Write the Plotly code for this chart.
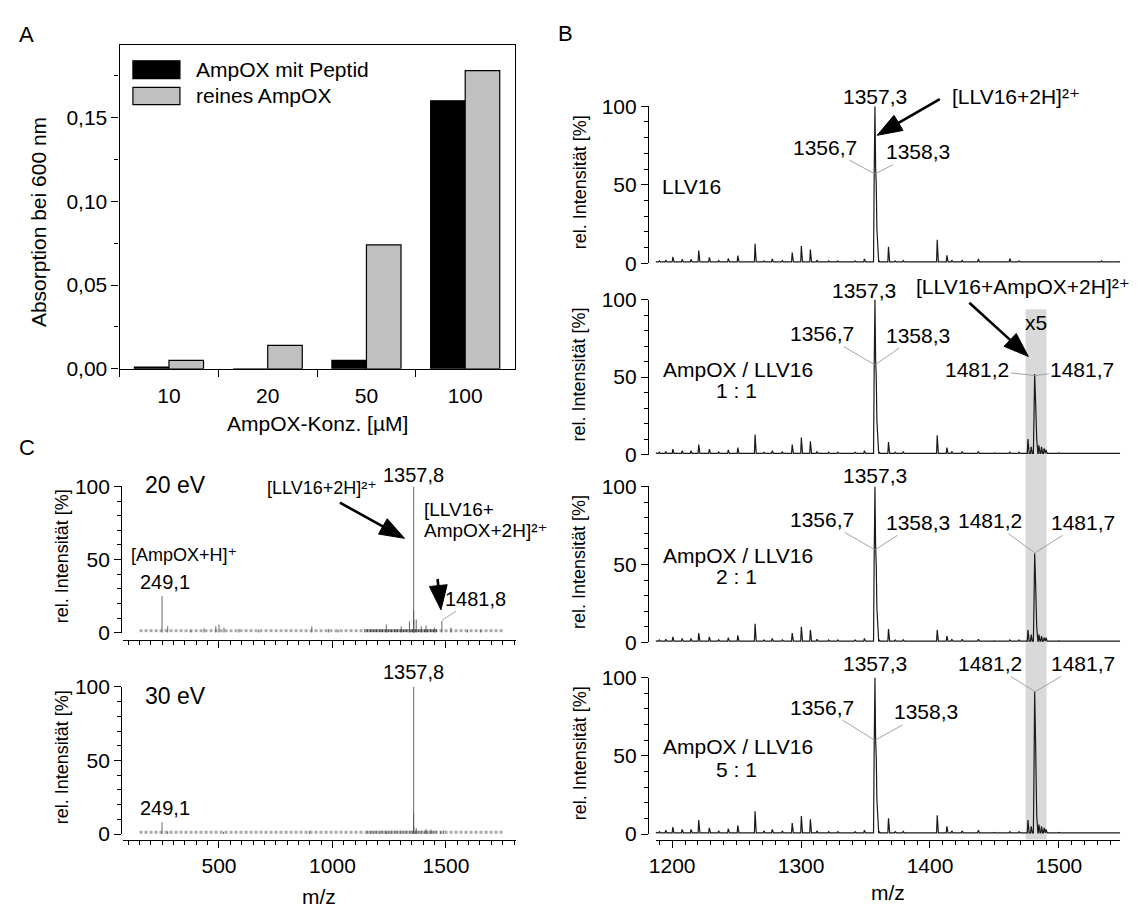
import math
import plotly.graph_objects as go

W, H = 1140, 913
def fx(px): return px / W
def fy(py): return 1 - py / H

FONT = "Liberation Sans, Arial, DejaVu Sans, sans-serif"

# ---------------- Panel A data ----------------
conc = ["10", "20", "50", "100"]
abs_with_peptide = [0.001, 0.0, 0.005, 0.160]
abs_pure = [0.005, 0.014, 0.074, 0.178]

# ---------------- Panel B data (m/z, rel. intensity as displayed) ----------------
b_mz = [1187.5, 1190.0, 1195.0, 1200.5, 1207.7, 1214.6, 1220.6, 1228.8, 1236.0, 1243.5,
        1250.9, 1264.3, 1271.2, 1277.6, 1285.4, 1293.1, 1300.2, 1307.2, 1312.3, 1321.4,
        1328.5, 1335.5, 1341.9, 1349.1, 1356.7, 1357.3, 1357.8, 1358.3, 1358.8, 1359.3,
        1360.5, 1367.8, 1373.0, 1379.2, 1385.0, 1405.6, 1413.1, 1416.9, 1424.9, 1437.5,
        1450.0, 1461.9, 1469.0, 1476.0, 1478.5, 1480.7, 1481.2, 1481.7, 1482.2, 1482.8,
        1484.5, 1486.5, 1488.5, 1490.0, 1500.0, 1515.0, 1533.0, 1547.0]
b_llv16 = [1.0, 1.5, 2.0, 4.0, 2.5, 2.5, 8.0, 3.7, 1.7, 3.0,
           4.8, 12.4, 1.5, 2.7, 1.7, 6.8, 11.0, 8.7, 2.0, 1.5,
           1.5, 1.2, 1.5, 2.7, 55, 100, 62, 50, 22, 9,
           1.5, 10.4, 1.5, 1.7, 1.2, 15.0, 5.0, 2.0, 2.0, 2.7,
           1.0, 3.0, 1.5, 1.0, 1.0, 1.0, 1.0, 1.0, 1.0, 1.0,
           1.0, 1.0, 1.0, 1.0, 1.0, 1.0, 1.5, 1.0]
b_ratio_1_1 = [1.0, 1.5, 2.0, 3.5, 2.5, 2.5, 6.5, 3.5, 1.7, 3.0,
               4.5, 13.0, 1.5, 2.5, 1.7, 6.5, 11.0, 8.5, 2.0, 1.5,
               1.5, 1.2, 1.5, 2.5, 55, 100, 62, 50, 22, 9,
               1.5, 8.0, 1.5, 1.7, 1.2, 12.5, 4.5, 2.0, 2.0, 2.0,
               1.0, 1.5, 1.5, 10.0, 5.0, 25, 52, 40, 18, 10,
               6.0, 5.0, 4.0, 3.0, 1.0, 1.0, 1.2, 1.0]
b_ratio_2_1 = [1.0, 1.5, 2.0, 3.5, 2.5, 2.5, 6.0, 3.5, 1.7, 3.0,
               4.5, 12.0, 1.5, 2.5, 1.7, 6.0, 10.0, 8.0, 2.0, 1.5,
               1.5, 1.2, 1.5, 2.5, 55, 100, 62, 50, 22, 9,
               1.5, 8.5, 1.5, 1.7, 1.2, 8.0, 4.0, 2.0, 2.0, 2.0,
               1.0, 1.5, 1.5, 8.0, 5.0, 25, 57, 45, 20, 10,
               5.0, 4.0, 3.0, 3.0, 1.0, 1.0, 1.2, 1.0]
b_ratio_5_1 = [1.0, 1.5, 2.5, 4.5, 3.0, 3.0, 9.0, 4.0, 2.0, 3.5,
               5.5, 14.5, 2.0, 3.0, 2.0, 7.0, 11.5, 9.5, 2.0, 1.5,
               1.5, 1.2, 1.5, 2.5, 55, 100, 60, 50, 22, 9,
               1.5, 10.0, 1.5, 1.7, 1.2, 12.0, 5.0, 2.0, 2.0, 2.5,
               1.0, 1.5, 1.5, 9.0, 5.0, 40, 91, 70, 25, 12,
               6.0, 5.0, 4.0, 3.0, 1.0, 1.0, 1.2, 1.0]
b_baseline = 0.8
b_x5_region = [1474.2, 1490.4]

# ---------------- Panel C data (centroided sticks) ----------------
c20_mz = [249.1, 274, 376, 434, 486, 500, 522, 588, 675, 909, 982, 1025, 1142, 1237,
          1303, 1339, 1357.3, 1357.8, 1358.3, 1369, 1391, 1412, 1449, 1481.8, 1522, 1595, 1653]
c20_int = [25, 4.4, 2, 3, 4.4, 5.5, 3.5, 2.5, 2, 4.4, 2.5, 2, 2.5, 5.5,
           4.4, 7.8, 15, 100, 9, 9, 4.4, 5, 3.5, 8, 3.5, 2, 2]
c30_mz = [249.1, 274, 520, 898, 1237, 1357.3, 1357.8, 1358.3, 1369, 1412, 1434, 1477, 1490]
c30_int = [8, 1.8, 1.5, 2.2, 1.5, 14, 100, 5, 4, 3.3, 3, 2, 2.5]
c_noise_range = [150, 1750]
c_dense_range = [1150, 1460]
c_noise_level = 1.3


def profile(mz, inten, base):
    xs, ys = [], []
    prev = None
    for m, h in zip(mz, inten):
        if prev is None or m - prev > 1.2:
            if prev is not None:
                xs.append(prev + 0.9); ys.append(base)
            xs.append(m - 0.5); ys.append(base)
        xs.append(m); ys.append(h)
        prev = m
    xs.append(prev + 0.9); ys.append(base)
    return xs, ys


def sticks(mz, inten):
    xs, ys = [], []
    for m, h in zip(mz, inten):
        xs += [m, m, None]
        ys += [0, h, None]
    return xs, ys


# layout geometry (pixels)
B_XDOM = (652.7, 1120.0); B_XR = (1187.2, 1547.5)
C_XDOM = (116.7, 512.0); C_XR = (77.0, 1808.0)
b_rows = [(96.7, 257.7), (295.0, 454.0), (486.7, 646.7), (682.7, 843.3)]
c_rows = [(486.7, 636.7, 644.0), (692.3, 843.3, 849.0)]

def b_px(mz):
    return B_XDOM[0] + (mz - B_XR[0]) * (B_XDOM[1] - B_XDOM[0]) / (B_XR[1] - B_XR[0])

def c_px(mz):
    return C_XDOM[0] + (mz - C_XR[0]) * (C_XDOM[1] - C_XDOM[0]) / (C_XR[1] - C_XR[0])

def v_px(v, top, base):
    return base - v / 100.0 * (base - top)


fig = go.Figure()

# Panel A bars
fig.add_trace(go.Bar(x=conc, y=abs_with_peptide, name="AmpOX mit Peptid",
                     marker=dict(color="black", line=dict(color="black", width=1.2)),
                     xaxis="x", yaxis="y", showlegend=False))
fig.add_trace(go.Bar(x=conc, y=abs_pure, name="reines AmpOX",
                     marker=dict(color="#c0c0c0", line=dict(color="black", width=1.2)),
                     xaxis="x", yaxis="y", showlegend=False))

# Panel B spectra
b_series = [b_llv16, b_ratio_1_1, b_ratio_2_1, b_ratio_5_1]
for i, s in enumerate(b_series):
    xs, ys = profile(b_mz, s, b_baseline)
    fig.add_trace(go.Scatter(x=xs, y=ys, mode="lines",
                             line=dict(color="#1a1a1a", width=1.2),
                             xaxis="x%d" % (i + 2), yaxis="y%d" % (i + 2),
                             showlegend=False, hoverinfo="skip"))

# Panel C spectra
for k, (mzs, ints, dense_col) in enumerate([(c20_mz, c20_int, "#444"), (c30_mz, c30_int, "#777")]):
    ax = "x%d" % (k + 6); ay = "y%d" % (k + 6)
    fig.add_trace(go.Scatter(x=c_noise_range, y=[c_noise_level] * 2, mode="lines",
                             line=dict(color="#aaaaaa", width=3, dash="3px,2px"),
                             xaxis=ax, yaxis=ay, showlegend=False, hoverinfo="skip"))
    fig.add_trace(go.Scatter(x=c_dense_range, y=[c_noise_level] * 2, mode="lines",
                             line=dict(color=dense_col, width=3, dash="2px,1px"),
                             xaxis=ax, yaxis=ay, showlegend=False, hoverinfo="skip"))
    xs, ys = sticks(mzs, ints)
    fig.add_trace(go.Scatter(x=xs, y=ys, mode="lines",
                             line=dict(color="#555555", width=0.9),
                             xaxis=ax, yaxis=ay, showlegend=False, hoverinfo="skip"))

axis_common = dict(showgrid=False, zeroline=False, linecolor="black", linewidth=1.3,
                   tickcolor="black", tickwidth=1.3, ticks="outside",
                   tickfont=dict(size=21, color="black"))

layout = dict(
    width=W, height=H, margin=dict(l=0, r=0, t=0, b=0),
    paper_bgcolor="white", plot_bgcolor="rgba(0,0,0,0)",
    font=dict(family=FONT, size=21, color="black"),
    separators=",.",
    bargap=0.3, bargroupgap=0.0, barmode="group",
    showlegend=False,
)

# Panel A axes
layout["xaxis"] = dict(axis_common, domain=[fx(113.3), fx(510.7)], anchor="y",
                       type="category", showline=True, mirror=True,
                       tickson="boundaries", ticklen=7, ticklabelstandoff=8)
layout["yaxis"] = dict(axis_common, domain=[fy(366), fy(34.3)], anchor="x",
                       range=[0, 0.193], tickvals=[0, 0.05, 0.10, 0.15], tickformat=".2f",
                       showline=True, mirror=True, ticklen=7,
                       minor=dict(tickmode="array", tickvals=[0.025, 0.075, 0.125, 0.175],
                                  ticks="outside", ticklen=4, tickcolor="black", tickwidth=1.3))

# Panel B axes
for i, (top, base) in enumerate(b_rows):
    n = i + 2
    xa = dict(axis_common, domain=[fx(B_XDOM[0]), fx(B_XDOM[1])], range=list(B_XR),
              anchor="free", position=fy(849))
    if i < 3:
        xa.update(visible=False)
    else:
        xa.update(showline=True, tick0=1200, dtick=100, ticklen=7,
                  minor=dict(tickmode="linear", tick0=1200, dtick=10, ticks="outside",
                             ticklen=4, tickcolor="black", tickwidth=1.2))
    layout["xaxis%d" % n] = xa
    layout["yaxis%d" % n] = dict(axis_common, domain=[fy(base), fy(top)], range=[0, 100],
                                 anchor="free", position=fx(645), showline=True,
                                 tick0=0, dtick=50, ticklen=7,
                                 minor=dict(tickmode="linear", tick0=0, dtick=10, ticks="outside",
                                            ticklen=4, tickcolor="black", tickwidth=1.2))

# Panel C axes
for k, (top, base, xline) in enumerate(c_rows):
    n = k + 6
    layout["xaxis%d" % n] = dict(axis_common, domain=[fx(C_XDOM[0]), fx(C_XDOM[1])], range=list(C_XR),
                                 anchor="free", position=fy(xline), showline=True,
                                 tick0=0, dtick=500, ticklen=7, showticklabels=(k == 1),
                                 minor=dict(tickmode="linear", tick0=0, dtick=50, ticks="outside",
                                            ticklen=4, tickcolor="black", tickwidth=1.2))
    layout["yaxis%d" % n] = dict(axis_common, domain=[fy(base), fy(top)], range=[0, 100],
                                 anchor="free", position=fx(115), showline=True,
                                 tick0=0, dtick=50, ticklen=7,
                                 minor=dict(tickmode="linear", tick0=0, dtick=10, ticks="outside",
                                            ticklen=4, tickcolor="black", tickwidth=1.2))

fig.update_layout(**layout)

# ---------------- Shapes ----------------
shapes = []
shapes.append(dict(type="rect", xref="x5", yref="paper", x0=b_x5_region[0], x1=b_x5_region[1],
                   y0=fy(849), y1=fy(305), fillcolor="#d9d9d9", line=dict(width=0), layer="below"))
shapes.append(dict(type="rect", xref="paper", yref="paper", x0=fx(126.7), x1=fx(174),
                   y0=fy(68.3), y1=fy(50), fillcolor="black", line=dict(color="black", width=1.2)))
shapes.append(dict(type="rect", xref="paper", yref="paper", x0=fx(126.7), x1=fx(174),
                   y0=fy(95), y1=fy(77.3), fillcolor="#c0c0c0", line=dict(color="black", width=1.2)))


def big_arrow(tail, head, head_len=25.0, half_w=9.0):
    """Black pointer arrow between two pixel positions (drawn as shapes)."""
    tx, ty = tail; hx, hy = head
    L = math.hypot(hx - tx, hy - ty)
    ux, uy = (hx - tx) / L, (hy - ty) / L
    bx, by = hx - ux * head_len, hy - uy * head_len
    nx, ny = -uy, ux
    shapes.append(dict(type="line", xref="paper", yref="paper",
                       x0=fx(tx), y0=fy(ty), x1=fx(bx + ux * 3), y1=fy(by + uy * 3),
                       line=dict(color="black", width=2.6)))
    path = "M %.5f,%.5f L %.5f,%.5f L %.5f,%.5f Z" % (
        fx(hx), fy(hy), fx(bx + nx * half_w), fy(by + ny * half_w),
        fx(bx - nx * half_w), fy(by - ny * half_w))
    shapes.append(dict(type="path", xref="paper", yref="paper", path=path,
                       fillcolor="black", line=dict(color="black", width=1)))

def b_pt(i, mz, v):
    top, base = b_rows[i]
    return (b_px(mz), v_px(v, top, base))

def c_pt(k, mz, v):
    top, base, _ = c_rows[k]
    return (c_px(mz), v_px(v, top, base))

big_arrow(b_pt(0, 1407.6, 104.6), b_pt(0, 1359.0, 81.5))
big_arrow(b_pt(1, 1430.5, 97.9), b_pt(1, 1476.3, 63.3))
big_arrow(c_pt(0, 1032.7, 88.9), c_pt(0, 1317.4, 64.5))
big_arrow(c_pt(0, 1463.0, 36.7), c_pt(0, 1478.0, 15.6))

fig.update_layout(shapes=shapes)

# ---------------- Annotations ----------------
ann = []
def txt(text, xpx, ypx, size=21, xanchor="center", yanchor="middle", align="center", angle=0):
    ann.append(dict(text=text, x=fx(xpx), y=fy(ypx), xref="paper", yref="paper", showarrow=False,
                    font=dict(size=size, color="black", family=FONT), xanchor=xanchor,
                    yanchor=yanchor, align=align, textangle=angle))

def txtB(i, text, mz, v, **kw):
    x, y = b_pt(i, mz, v)
    txt(text, x, y, **kw)

def txtC(k, text, mz, v, **kw):
    x, y = c_pt(k, mz, v)
    txt(text, x, y, **kw)

def leader(text, hx, hy, tx, ty, xr, yr, size=21):
    ann.append(dict(text=text, x=hx, y=hy, ax=tx, ay=ty, xref=xr, yref=yr, axref=xr, ayref=yr,
                    showarrow=True, arrowhead=0, arrowwidth=0.9, arrowcolor="#9a9a9a",
                    standoff=0, startstandoff=0, font=dict(size=size, color="black", family=FONT)))

SUP2P = "\u00b2\u207a"   # superscript "2+"
SUPP = "\u207a"          # superscript "+"

# panel letters
txt("A", 20, 23, size=22)
txt("B", 562, 22, size=22)
txt("C", 20.5, 447, size=22)

# Panel A texts
txt("Absorption bei 600 nm", 31.7, 216, angle=-90)
txt("AmpOX-Konz. [µM]", 312, 422)
txt("AmpOX mit Peptid", 187.7, 59, xanchor="left")
txt("reines AmpOX", 187.7, 86, xanchor="left")

# Panel B titles
for (top, base) in b_rows:
    txt("rel. Intensität [%]", 576, (top + base) / 2 - 3, size=18, angle=-90)
txt("m/z", (B_XDOM[0] + B_XDOM[1]) / 2, 903)

# B1
xr, yr = "x2", "y2"
txtB(0, "1357,3", 1357.3, 106)
leader("1356,7", 1357.0, 57, 1318.7, 74, xr, yr)
leader("1358,3", 1357.6, 57, 1391.0, 71, xr, yr)
txtB(0, "LLV16", 1190.5, 49, xanchor="left")
txtB(0, "[LLV16+2H]" + SUP2P, 1466.6, 106)

# B2
xr, yr = "x3", "y3"
txtB(1, "1357,3", 1349.0, 106)
leader("1356,7", 1357.0, 58, 1316.0, 78, xr, yr)
leader("1358,3", 1357.6, 58, 1390.5, 77, xr, yr)
txtB(1, "AmpOX / LLV16", 1251.0, 55)
txtB(1, "1 : 1", 1250.0, 41.5)
leader("1481,2", 1481.3, 51, 1436.8, 55, xr, yr)
leader("1481,7", 1481.6, 51, 1518.2, 55, xr, yr)
txtB(1, "x5", 1482.5, 85.5)
txtB(1, "[LLV16+AmpOX+2H]" + SUP2P, 1472.0, 108.4)

# B3
xr, yr = "x4", "y4"
txtB(2, "1357,3", 1357.3, 107)
leader("1356,7", 1357.0, 59.5, 1316.0, 79, xr, yr)
leader("1358,3", 1357.6, 59.5, 1390.5, 77, xr, yr)
txtB(2, "AmpOX / LLV16", 1251.0, 56)
txtB(2, "2 : 1", 1250.0, 42)
leader("1481,2", 1481.3, 57.5, 1446.8, 78, xr, yr)
leader("1481,7", 1481.6, 57.5, 1519.0, 77, xr, yr)

# B4
xr, yr = "x5", "y5"
txtB(3, "1357,3", 1357.3, 109)
leader("1356,7", 1357.0, 60, 1316.0, 81, xr, yr)
leader("1358,3", 1357.6, 60, 1396.8, 78, xr, yr)
txtB(3, "AmpOX / LLV16", 1251.0, 56)
txtB(3, "5 : 1", 1250.0, 41)
leader("1481,2", 1481.3, 91, 1446.8, 109, xr, yr)
leader("1481,7", 1481.6, 91, 1519.0, 109, xr, yr)

# Panel C titles
for (top, base, _) in c_rows:
    txt("rel. Intensität [%]", 55, (top + base) / 2 - 3, size=18, angle=-90)
txt("m/z", (C_XDOM[0] + C_XDOM[1]) / 2, 907)

# C top (20 eV)
xr, yr = "x6", "y6"
txtC(0, "20 eV", 164.6, 101, size=23, xanchor="left")
txtC(0, "[AmpOX+H]" + SUPP, 105, 53, size=18, xanchor="left")
txtC(0, "249,1", 262, 34.5, size=20)
txtC(0, "[LLV16+2H]" + SUP2P, 1206, 99, size=18, xanchor="right")
txtC(0, "1357,8", 1357.8, 108, size=20)
txtC(0, "[LLV16+", 1396, 84.5, size=19, xanchor="left")
txtC(0, "AmpOX+2H]" + SUP2P, 1396, 70, size=19, xanchor="left")
leader("1481,8", 1483.0, 8.5, 1630.0, 23.3, xr, yr, size=20)

# C bottom (30 eV)
txtC(1, "30 eV", 164.6, 94, size=23, xanchor="left")
txtC(1, "249,1", 262, 17.6, size=20)
txtC(1, "1357,8", 1357.8, 110, size=20)

fig.update_layout(annotations=ann)

fig.write_html("out.html", config={"displayModeBar": False},
               post_script="document.body.style.margin='0';")
